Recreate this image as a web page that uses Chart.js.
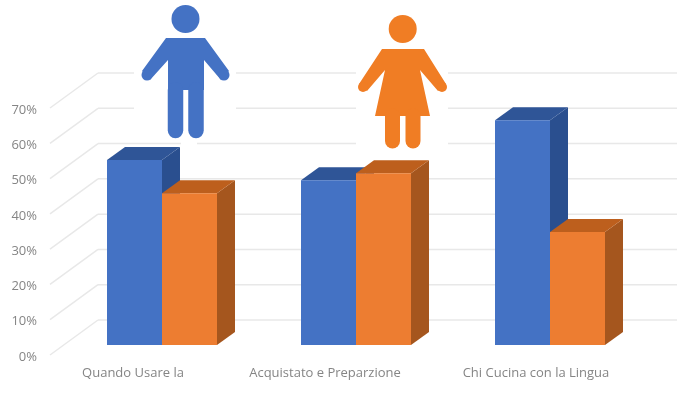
<!DOCTYPE html>
<html>
<head>
<meta charset="utf-8">
<title>Chart</title>
<script src="https://cdn.jsdelivr.net/npm/chart.js@4/dist/chart.umd.min.js"></script>
<style>
    html, body { margin: 0; padding: 0; background: #fff; }
    #wrap { width: 677px; height: 400px; }
</style>
</head>
<body>
<div id="wrap"><canvas id="chart"></canvas></div>
<script>
const categories = ['Quando Usare la', 'Acquistato e Preparzione', 'Chi Cucina con la Lingua'];
const uomini = [52.4, 46.7, 63.7];
const donne = [43, 48.7, 32];
const yTicks = [0, 10, 20, 30, 40, 50, 60, 70];

// depth of the fake 3D look
const barDepthX = 18, barDepthY = 13;
const wallDepthY = 25;
const wallDrop = 10;
const labelDrop = 12;
// x labels do not sit under the bar groups in the picture
const labelShift = [-29, -31, -14];

const BLUE = '#4472C4', BLUE_SIDE = '#2A4F8F', BLUE_TOP = '#2F5597';
const ORANGE = '#ED7D31', ORANGE_SIDE = '#A5561E', ORANGE_TOP = '#BD5F1D';
const GRID = '#E8E8E8', TEXT = '#858585';

function poly(ctx, color, pts) {
    ctx.fillStyle = color;
    ctx.beginPath();
    pts.forEach((p, i) => i ? ctx.lineTo(p[0], p[1]) : ctx.moveTo(p[0], p[1]));
    ctx.closePath();
    ctx.fill();
}

function strokeLine(ctx, x1, y1, x2, y2) {
    ctx.beginPath();
    ctx.moveTo(x1, y1);
    ctx.lineTo(x2, y2);
    ctx.stroke();
}

function drawMan(ctx) {
    ctx.fillStyle = '#fff';
    ctx.fillRect(134, 0, 102, 140);
    ctx.fillRect(181, 140, 16, 7);
    ctx.fillStyle = BLUE;
    ctx.strokeStyle = BLUE;
    ctx.lineCap = 'round';
    ctx.beginPath();
    ctx.arc(185.5, 19, 14, 0, Math.PI * 2);
    ctx.fill();
    poly(ctx, BLUE, [[166, 38], [205, 38], [229, 71], [221, 80], [204, 60], [204, 90], [168, 90], [168, 60], [150, 80], [142, 71]]);
    ctx.lineWidth = 11;
    strokeLine(ctx, 147, 75, 147, 75);
    strokeLine(ctx, 224, 75, 224, 75);
    ctx.lineWidth = 15.5;
    strokeLine(ctx, 175.5, 90, 175.5, 130.5);
    strokeLine(ctx, 196, 90, 196, 130.5);
}

function drawWoman(ctx) {
    const c = '#F07D24';
    ctx.fillStyle = '#fff';
    ctx.fillRect(356, 12, 92, 138);
    ctx.fillStyle = c;
    ctx.strokeStyle = c;
    ctx.lineCap = 'round';
    ctx.beginPath();
    ctx.arc(402.7, 29, 14, 0, Math.PI * 2);
    ctx.fill();
    poly(ctx, c, [[382, 49], [424, 49], [446, 84], [438, 91], [420, 70], [430, 116], [375, 116], [385, 70], [367, 91], [359, 84]]);
    ctx.lineWidth = 10;
    strokeLine(ctx, 363, 87, 363, 87);
    strokeLine(ctx, 442, 87, 442, 87);
    ctx.lineWidth = 15;
    strokeLine(ctx, 392.5, 116, 392.5, 141);
    strokeLine(ctx, 413, 116, 413, 141);
}

const fakeDepth = {
    id: 'fakeDepth',
    beforeDatasetsDraw(chart) {
        const ctx = chart.ctx;
        const y = chart.scales.y;
        ctx.save();

        // back wall and left wall lines
        ctx.strokeStyle = GRID;
        ctx.lineWidth = 1.5;
        yTicks.forEach(function (v) {
            const py = y.getPixelForValue(v);
            strokeLine(ctx, 98, py - wallDepthY, 677, py - wallDepthY);
            strokeLine(ctx, 50, py + wallDrop, 98, py - wallDepthY);
        });

        // sides and tops, the library then paints the front faces over them
        [[0, BLUE_SIDE, BLUE_TOP], [1, ORANGE_SIDE, ORANGE_TOP]].forEach(function (d) {
            chart.getDatasetMeta(d[0]).data.forEach(function (bar) {
                const l = bar.x - bar.width / 2, r = bar.x + bar.width / 2;
                poly(ctx, d[1], [[r, bar.y], [r + barDepthX, bar.y - barDepthY], [r + barDepthX, bar.base - barDepthY], [r, bar.base]]);
                poly(ctx, d[2], [[l, bar.y], [l + barDepthX, bar.y - barDepthY], [r + barDepthX, bar.y - barDepthY], [r, bar.y]]);
            });
        });
        ctx.restore();
    },
    afterDraw(chart) {
        const ctx = chart.ctx;
        const x = chart.scales.x;
        ctx.save();
        drawMan(ctx);
        drawWoman(ctx);

        // category labels
        ctx.fillStyle = TEXT;
        ctx.font = '13px "Open Sans"';
        ctx.textAlign = 'center';
        ctx.textBaseline = 'middle';
        categories.forEach(function (label, i) {
            ctx.fillText(label, x.getPixelForTick(i) + labelShift[i], 373);
        });
        ctx.restore();
    }
};

new Chart(document.getElementById('chart'), {
    type: 'bar',
    data: {
        labels: categories,
        datasets: [
            { label: 'Uomini', data: uomini, backgroundColor: BLUE },
            { label: 'Donne', data: donne, backgroundColor: ORANGE }
        ]
    },
    options: {
        responsive: true,
        maintainAspectRatio: false,
        animation: false,
        layout: { padding: { left: 0, right: 30, top: 98, bottom: 55 } },
        datasets: { bar: { barPercentage: 1, categoryPercentage: 110 / 194 } },
        plugins: { legend: { display: false }, tooltip: { enabled: false } },
        scales: {
            x: {
                grid: { display: false, drawTicks: false },
                border: { display: false },
                ticks: { display: false }
            },
            y: {
                min: 0,
                max: 70,
                grid: { display: false, drawTicks: false },
                border: { display: false },
                afterFit: function (scale) { scale.width = 65; },
                ticks: {
                    stepSize: 10,
                    padding: 28,
                    labelOffset: labelDrop,
                    color: TEXT,
                    font: { family: '"Open Sans"', size: 13 },
                    callback: function (v) { return v + '%'; }
                }
            }
        }
    },
    plugins: [fakeDepth]
});
</script>
</body>
</html>
